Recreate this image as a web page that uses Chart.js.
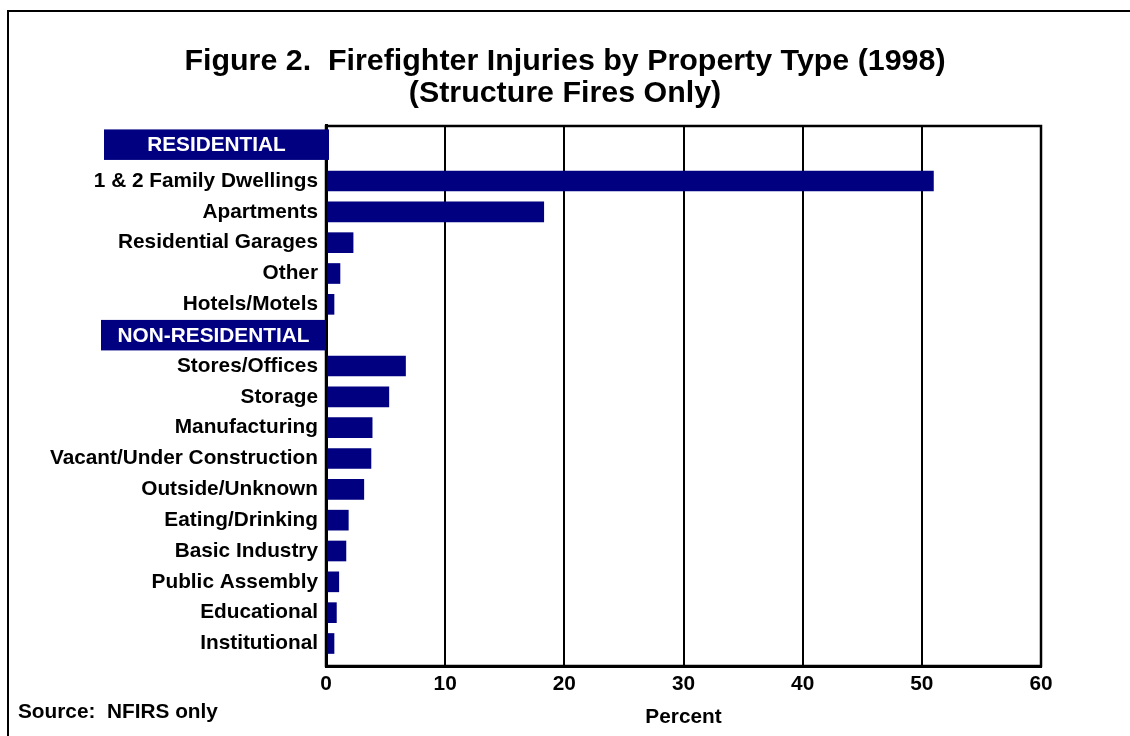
<!DOCTYPE html>
<html><head><meta charset="utf-8">
<script src="https://cdn.jsdelivr.net/npm/chart.js@4.4.0/dist/chart.umd.min.js"></script>
<style>html,body{margin:0;padding:0;background:#fff;overflow:hidden;}</style>
</head><body>
<canvas id="c" width="1130" height="736"></canvas>
<script>
const residentialHeader = 'RESIDENTIAL';
const residentialCategories = ['1 & 2 Family Dwellings', 'Apartments', 'Residential Garages', 'Other', 'Hotels/Motels'];
const residentialValues = [51.0, 18.3, 2.3, 1.2, 0.7];
const nonResidentialHeader = 'NON-RESIDENTIAL';
const nonResidentialCategories = ['Stores/Offices', 'Storage', 'Manufacturing', 'Vacant/Under Construction', 'Outside/Unknown', 'Eating/Drinking', 'Basic Industry', 'Public Assembly', 'Educational', 'Institutional'];
const nonResidentialValues = [6.7, 5.3, 3.9, 3.8, 3.2, 1.9, 1.7, 1.1, 0.9, 0.7];
const xTickValues = [0, 10, 20, 30, 40, 50, 60];
const titleLines = ['Figure 2.  Firefighter Injuries by Property Type (1998)', '(Structure Fires Only)'];
const xAxisTitle = 'Percent';
const sourceNote = 'Source:  NFIRS only';

// Build row table: header rows followed by their categories
const rowLabels = [residentialHeader, ...residentialCategories, nonResidentialHeader, ...nonResidentialCategories];
const headerRows = [0, residentialCategories.length + 1];
const rowValues = [null, ...residentialValues, null, ...nonResidentialValues];
const barData = [];
const categoryRows = [];
rowLabels.forEach((lab, i) => {
  if (headerRows.includes(i)) return;
  categoryRows.push(i);
  barData.push({ x: rowValues[i], y: i });
});

const FONT = "'Liberation Sans', Arial, Helvetica, sans-serif";
const NAVY = '#000080';

const decor = {
  id: 'decor',
  beforeDraw(chart) {
    const ctx = chart.ctx;
    ctx.save();
    ctx.fillStyle = '#fff';
    ctx.fillRect(0, 0, chart.width, chart.height);
    ctx.restore();
  },
  afterDraw(chart) {
    const ctx = chart.ctx;
    const ca = chart.chartArea;
    const ys = chart.scales.y;
    ctx.save();
    // outer frame
    ctx.strokeStyle = '#000';
    ctx.lineWidth = 2;
    ctx.strokeRect(8, 11, 1400, 1000);
    // plot frame
    ctx.lineWidth = 2.5;
    ctx.strokeRect(ca.left, ca.top, ca.right - ca.left, ca.bottom - ca.top);
    // section headers
    const hdrStyle = [
      { left: 104, right: ca.left + 3, dy: -5.5 },
      { left: 101, right: ca.left, dy: 0 }
    ];
    headerRows.forEach((r, k) => {
      const st = hdrStyle[k];
      const cy = ys.getPixelForValue(r) + st.dy;
      const h = 30.5;
      ctx.fillStyle = NAVY;
      ctx.fillRect(st.left, cy - h / 2, st.right - st.left, h);
      ctx.fillStyle = '#fff';
      ctx.font = 'bold 20.8px ' + FONT;
      ctx.textAlign = 'center';
      ctx.textBaseline = 'middle';
      ctx.fillText(rowLabels[r], (st.left + st.right) / 2, cy + 1);
    });
    // source note
    ctx.fillStyle = '#000';
    ctx.font = 'bold 20.8px ' + FONT;
    ctx.textAlign = 'left';
    ctx.textBaseline = 'middle';
    ctx.fillText(sourceNote, 18, 712);
    ctx.restore();
  }
};

new Chart(document.getElementById('c'), {
  type: 'bar',
  data: {
    datasets: [{
      data: barData,
      backgroundColor: NAVY,
      borderWidth: 0,
      categoryPercentage: 1,
      barPercentage: 0.67
    }]
  },
  options: {
    indexAxis: 'y',
    responsive: false,
    devicePixelRatio: 1,
    animation: false,
    layout: { padding: { left: 0, right: 0, top: 0, bottom: 0 } },
    plugins: {
      legend: { display: false },
      tooltip: { enabled: false },
      title: {
        display: true,
        text: titleLines,
        color: '#000',
        font: { family: FONT, size: 30.4, weight: 'bold', lineHeight: 1.0526 },
        padding: { top: 46, bottom: 16 }
      }
    },
    scales: {
      x: {
        type: 'linear',
        position: 'bottom',
        min: 0,
        max: 60,
        afterBuildTicks(scale) { scale.ticks = xTickValues.map(v => ({ value: v })); },
        afterFit(scale) { scale.height = 70; scale.paddingRight = 89; },
        ticks: {
          color: '#000',
          font: { family: FONT, size: 20.8, weight: 'bold' },
          padding: 6
        },
        grid: { color: '#000', lineWidth: 2, drawTicks: false },
        border: { color: '#000', width: 3 },
        title: {
          display: true,
          text: xAxisTitle,
          color: '#000',
          font: { family: FONT, size: 20.8, weight: 'bold' },
          padding: { top: 0, bottom: 6 }
        }
      },
      y: {
        type: 'linear',
        reverse: true,
        offset: false,
        bounds: 'data',
        min: -0.784,
        max: 16.73,
        afterBuildTicks(scale) { scale.ticks = categoryRows.map(v => ({ value: v })); },
        afterFit(scale) { scale.width = 326; },
        ticks: {
          color: '#000',
          font: { family: FONT, size: 20.8, weight: 'bold' },
          padding: 8,
          autoSkip: false,
          callback: (v) => rowLabels[v]
        },
        grid: { display: false, drawTicks: false },
        border: { color: '#000', width: 3 }
      }
    }
  },
  plugins: [decor]
});
</script>
</body></html>
